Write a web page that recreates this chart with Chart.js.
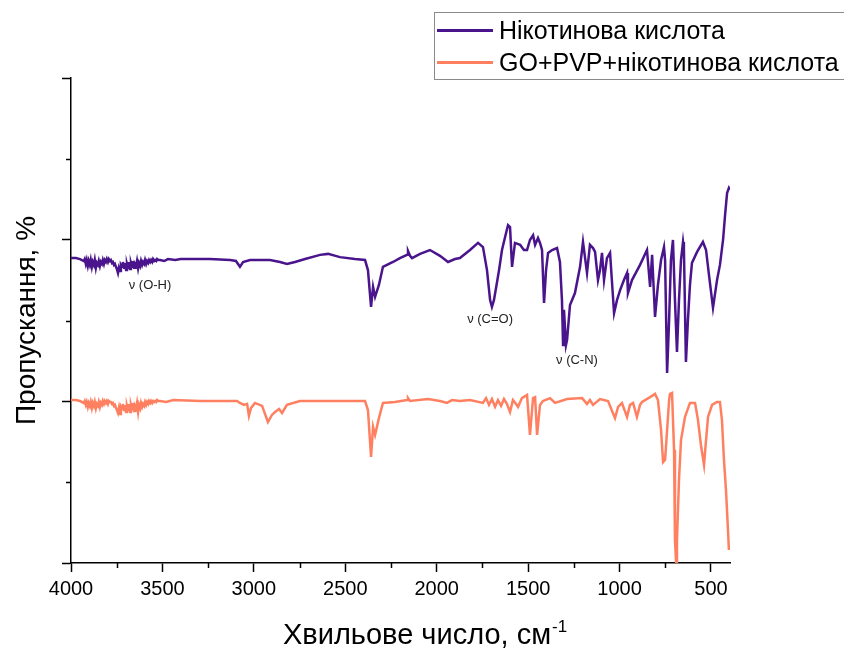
<!DOCTYPE html>
<html>
<head>
<meta charset="utf-8">
<title>ІЧ-спектри</title>
<script src="https://cdn.jsdelivr.net/npm/chart.js@4.4.1/dist/chart.umd.min.js"></script>
<style>
  html, body { margin: 0; padding: 0; background: #fff; }
  #wrap { position: relative; width: 844px; height: 649px; overflow: hidden; }
  #c { position: absolute; left: 0; top: 0; }
  .legend {
    position: absolute; left: 434px; top: 12px; width: 430px; height: 68px;
    border: 1px solid #8a8a8a; box-sizing: border-box;
    font-family: "Liberation Sans", Arial, sans-serif; font-size: 25px; color: #000;
  }
  .legend .row { position: absolute; left: 2px; height: 30px; display: flex; align-items: center; white-space: nowrap; }
  .legend .swatch { display: inline-block; width: 56px; height: 3px; margin-right: 6px; }
</style>
</head>
<body>
<div id="wrap">
  <canvas id="c" width="844" height="649"></canvas>
  <div class="legend">
    <div class="row" style="top:2px"><span class="swatch" id="sw0"></span><span id="lg0"></span></div>
    <div class="row" style="top:34px"><span class="swatch" id="sw1"></span><span id="lg1"></span></div>
  </div>
</div>
<script>
// Series names
const seriesNames = ['Нікотинова кислота', 'GO+PVP+нікотинова кислота'];

// Nicotinic acid spectrum: wavenumber (cm-1) and transmittance (arb. %)
const nicWave = [4000,3973,3951,
  3930,3925,3919,3914,3908,3903,3897,3892,3886,3881,3875,3870,3864,3859,3853,3848,3842,3837,3831,3826,3820,3815,3809,3804,3798,3793,3787,3782,3776,3771,3765,3760,3754,3749,3743,3738,3732,3727,3721,3716,3710,3705,3699,3694,3688,3683,3677,3672,3666,3661,3655,3650,3644,3639,3633,3628,3622,3617,3611,3606,3600,3595,3589,3584,3578,3573,3567,3562,3556,3551,3545,3540,3534,3529,3523,
  3513,3490,3470,3430,3400,3349,3240,3130,3098,3076,3059,3021,2912,2857,2819,2775,2720,2638,2594,2529,2447,2392,2376,2359,2348,2337,2316,2294,2239,2201,2162,2157,2146,2135,2091,2037,1982,1938,1900,1873,1818,1774,1747,1725,1708,1698,1687,1670,1659,1643,1626,1610,1599,1588,1572,1544,1523,1506,1490,1473,1462,1446,1435,1424,1413,1402,1391,1369,1342,1326,1315,1309,1304,1293,1287,1271,1244,1216,1200,1178,1162,1145,1134,1118,1107,1096,1085,1069,1052,1030,1014,997,976,959,954,932,888,850,833,822,806,790,773,757,751,740,729,719,708,697,686,675,664,653,648,637,626,615,604,576,544,527,511,489,467,451,434,423,412,402,396];
const nicT = [94.3,94.3,94.0,
  93.4,94.0,92.5,93.7,91.9,93.4,92.2,93.7,91.6,93.1,92.2,93.7,91.3,92.8,92.2,93.4,91.9,93.1,92.5,93.7,92.5,93.7,93.1,94.0,93.1,94.0,93.4,93.7,92.8,93.1,92.2,92.5,91.6,90.9,89.7,91.3,90.3,92.2,91.6,93.1,91.3,92.8,90.6,92.5,91.2,93.1,90.9,92.8,91.6,93.4,91.3,92.5,91.9,93.4,91.2,92.8,91.9,93.4,92.2,93.1,92.5,93.7,92.5,93.4,92.8,93.7,93.1,93.7,93.1,94.0,93.4,93.7,93.4,94.0,93.7,
  93.7,93.4,94.0,93.7,94.0,94.0,94.0,93.7,93.4,91.6,93.1,93.7,93.7,93.1,92.5,93.1,94.0,95.3,95.6,94.6,94.0,93.7,90.6,79.2,85.4,82.3,86.0,91.6,93.1,94.3,95.3,96.5,95.0,94.3,95.6,96.8,95.0,93.1,94.0,94.3,96.8,99.0,97.7,90.6,81.3,79.2,81.3,86.9,90.6,96.8,100.8,104.5,103.9,91.6,99.0,98.4,96.8,96.8,99.9,101.4,98.4,100.5,99.0,96.8,80.4,90.6,95.9,96.8,97.4,93.1,81.3,67.4,78.3,67.4,69.0,79.8,83.5,91.6,99.3,89.7,98.4,97.4,96.2,87.5,90.6,95.9,87.5,94.3,95.9,77.3,81.3,84.4,87.5,89.7,83.5,87.5,92.2,96.8,85.4,95.3,76.1,86.0,93.7,97.7,93.7,58.8,75.2,93.7,99.9,81.3,65.3,81.3,93.7,99.3,96.8,62.2,75.2,86.0,92.8,96.2,99.3,96.8,89.1,78.9,87.5,92.2,99.9,107.6,114.4,116.0,115.4];

// GO+PVP+nicotinic acid spectrum
const compWave = [4000,3973,3951,
  3930,3925,3919,3914,3908,3903,3897,3892,3886,3881,3875,3870,3864,3859,3853,3848,3842,3837,3831,3826,3820,3815,3809,3804,3798,3793,3787,3782,3776,3771,3765,3760,3754,3749,3743,3738,3732,3727,3721,3716,3710,3705,3699,3694,3688,3683,3677,3672,3666,3661,3655,3650,3644,3639,3633,3628,3622,3617,3611,3606,3600,3595,3589,3584,3578,3573,3567,3562,3556,3551,3545,3540,3534,3529,3523,
  3513,3480,3440,3294,3092,3076,3054,3037,3027,3016,2994,2955,2923,2901,2884,2862,2846,2819,2748,2392,2376,2359,2348,2337,2316,2294,2228,2162,2157,2146,2048,1982,1944,1916,1873,1818,1747,1730,1714,1698,1681,1665,1648,1632,1616,1599,1583,1566,1555,1534,1506,1490,1473,1462,1451,1435,1419,1380,1353,1287,1205,1178,1162,1145,1107,1063,1025,1008,987,959,943,926,905,888,877,833,806,790,773,762,751,740,729,724,713,702,697,691,686,675,664,642,615,587,571,555,538,527,516,494,467,451,440,429,418,407,402];
const compT = [50.4,50.4,50.1,
  49.5,50.1,48.9,49.8,48.3,49.5,48.6,49.8,48.0,49.5,48.6,49.8,47.9,49.2,48.6,49.8,48.3,49.5,48.9,50.1,49.2,50.1,49.5,50.1,49.2,50.1,49.8,49.8,49.2,49.5,48.6,48.9,48.0,47.3,46.4,47.9,46.1,48.3,47.6,49.2,47.3,48.9,46.7,48.6,47.3,49.2,46.7,48.9,47.6,49.5,47.0,48.6,47.9,49.5,46.7,48.9,47.9,49.5,48.3,49.2,48.6,49.8,48.9,49.8,49.2,50.1,49.5,50.1,49.5,50.1,49.8,50.1,49.8,50.4,50.1,
  50.1,49.8,50.4,50.1,50.1,49.5,48.9,49.2,45.5,47.9,49.5,48.6,43.6,45.8,46.7,47.6,46.4,48.9,50.1,50.1,47.3,32.8,42.1,39.6,44.8,49.5,49.8,50.4,51.0,50.1,50.7,50.1,49.5,50.4,50.1,50.4,49.5,51.0,48.9,50.7,48.3,50.4,48.6,50.7,49.2,46.7,50.4,49.2,48.3,51.0,52.0,39.6,51.0,51.3,39.6,48.9,50.1,51.0,49.5,50.7,51.0,49.2,50.4,48.9,50.7,50.1,44.8,48.3,49.5,45.2,48.9,49.5,45.2,48.9,49.8,51.3,52.3,50.4,41.1,31.2,31.9,41.1,50.4,52.3,52.6,35.0,7.1,0.3,7.1,25.7,38.0,45.2,49.5,49.5,44.2,36.5,30.3,38.0,45.2,48.9,49.8,49.8,44.2,31.9,22.6,10.2,4.0];

// Axis ticks
const xMajorTicks = [4000, 3500, 3000, 2500, 2000, 1500, 1000, 500];
const xMinorTicks = [3750, 3250, 2750, 2250, 1750, 1250, 750];
const yMajorTicks = [0, 50, 100, 150];
const yMinorTicks = [25, 75, 125];

// Axis title texts
const xTitleMain = 'Хвильове число, см';
const xTitleSup = '-1';
const yTitle = 'Пропускання, %';

// Band assignments: label text with its anchor (wavenumber, transmittance)
const bandLabels = ['ν (O-H)', 'ν (C=O)', 'ν (C-N)'];
const bandWave = [3568, 1708, 1233];
const bandT = [85.7, 75.2, 62.5];

const colors = ['#4a148c', '#ff8060'];
const FONT = '"Liberation Sans", Arial, sans-serif';

const toPoints = (xs, ys) => xs.map((x, i) => ({ x: x, y: ys[i] }));

// Legend (HTML)
seriesNames.forEach((name, i) => {
  document.getElementById('lg' + i).textContent = name;
  document.getElementById('sw' + i).style.background = colors[i];
});

// Short minor tick marks on both axes
const minorTicksPlugin = {
  id: 'minorTicks',
  afterDraw(chart) {
    const { ctx, scales: { x, y } } = chart;
    ctx.save();
    ctx.strokeStyle = '#000';
    ctx.lineWidth = 1.5;
    xMinorTicks.forEach(v => {
      const px = Math.round(x.getPixelForValue(v)) + 0.5;
      ctx.beginPath(); ctx.moveTo(px, x.top); ctx.lineTo(px, x.top + 5); ctx.stroke();
    });
    yMinorTicks.forEach(v => {
      const py = Math.round(y.getPixelForValue(v)) + 0.5;
      ctx.beginPath(); ctx.moveTo(y.right, py); ctx.lineTo(y.right - 5, py); ctx.stroke();
    });
    ctx.restore();
  }
};

// X-axis title with a raised exponent
const xTitlePlugin = {
  id: 'xTitle',
  afterDraw(chart) {
    const { ctx, scales: { x } } = chart;
    ctx.save();
    ctx.fillStyle = '#000';
    ctx.textBaseline = 'alphabetic';
    ctx.textAlign = 'left';
    ctx.font = '29px ' + FONT;
    const w = ctx.measureText(xTitleMain).width;
    const x0 = x.left + 212;
    const base = x.bottom - 5;
    ctx.fillText(xTitleMain, x0, base);
    ctx.font = '17px ' + FONT;
    ctx.fillText(xTitleSup, x0 + w + 1, base - 12);
    ctx.restore();
  }
};

// Band assignment labels
const bandLabelPlugin = {
  id: 'bandLabels',
  afterDatasetsDraw(chart) {
    const { ctx, scales: { x, y } } = chart;
    ctx.save();
    ctx.font = '13px ' + FONT;
    ctx.fillStyle = '#222';
    ctx.textAlign = 'center';
    ctx.textBaseline = 'middle';
    bandLabels.forEach((t, i) => {
      ctx.fillText(t, x.getPixelForValue(bandWave[i]), y.getPixelForValue(bandT[i]));
    });
    ctx.restore();
  }
};

new Chart(document.getElementById('c'), {
  type: 'line',
  data: {
    datasets: [
      { label: seriesNames[0], data: toPoints(nicWave, nicT), borderColor: colors[0], borderWidth: 2.5, pointRadius: 0, tension: 0, fill: false },
      { label: seriesNames[1], data: toPoints(compWave, compT), borderColor: colors[1], borderWidth: 2.5, pointRadius: 0, tension: 0, fill: false }
    ]
  },
  options: {
    responsive: false,
    animation: false,
    devicePixelRatio: 1,
    layout: { padding: { left: 0, top: 78, right: 114, bottom: 0 } },
    plugins: { legend: { display: false }, tooltip: { enabled: false } },
    scales: {
      x: {
        type: 'linear', reverse: true, min: 396, max: 4000,
        afterBuildTicks: s => { s.ticks = xMajorTicks.map(v => ({ value: v })); },
        afterFit: s => { s.height = 86; },
        ticks: { font: { family: FONT, size: 20 }, color: '#000', padding: 5, maxRotation: 0, autoSkip: false, callback: v => String(v) },
        grid: { drawOnChartArea: false, drawTicks: true, tickLength: 9, color: '#000', tickWidth: 1.5 },
        border: { display: true, color: '#000', width: 1.5 },
        title: { display: false }
      },
      y: {
        type: 'linear', min: 0, max: 150,
        afterBuildTicks: s => { s.ticks = yMajorTicks.map(v => ({ value: v })); },
        afterFit: s => { s.width = 71; },
        ticks: { display: false },
        grid: { drawOnChartArea: false, drawTicks: true, tickLength: 9, color: '#000', tickWidth: 1.5 },
        border: { display: true, color: '#000', width: 1.5 },
        title: { display: true, text: yTitle, font: { family: FONT, size: 28 }, color: '#000', padding: { top: 10, bottom: 0 } }
      }
    }
  },
  plugins: [minorTicksPlugin, xTitlePlugin, bandLabelPlugin]
});
</script>
</body>
</html>
